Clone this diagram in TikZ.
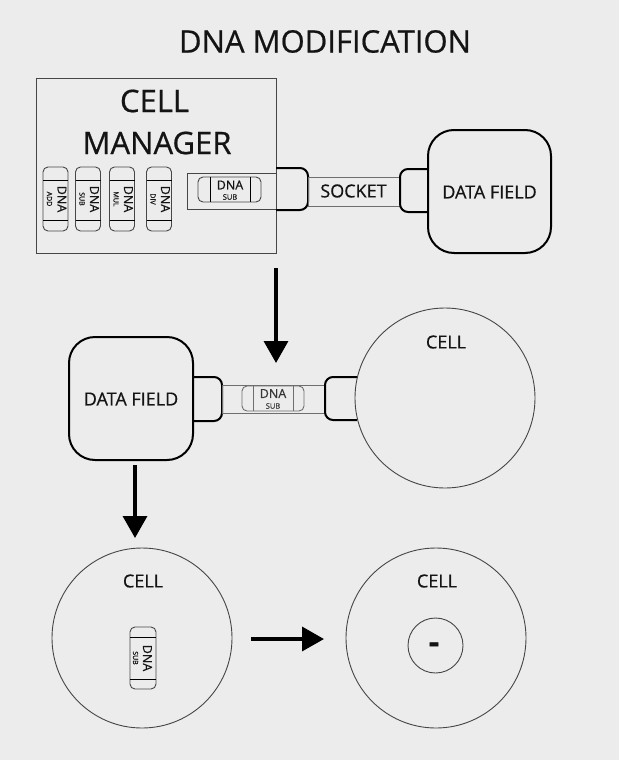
\documentclass[tikz,border=0pt]{standalone}
\usepackage{fontspec}
\setmainfont{Open Sans}[FakeBold=0.6]
\usetikzlibrary{arrows.meta}
\definecolor{bg}{RGB}{236,236,236}
\definecolor{ink}{RGB}{20,20,20}
\definecolor{thin}{RGB}{70,70,70}
\definecolor{faint}{RGB}{110,110,110}
\tikzset{
  lbl/.style={inner sep=0pt, text=ink},
  fs/.style={font=\fontsize{#1}{#1}\selectfont},
  thinbox/.style={draw=thin, line width=0.8pt},
  plug/.style={draw=black, line width=2pt, rounded corners=8pt},
  field/.style={draw=black, line width=2pt, rounded corners=26pt},
  cellc/.style={draw=thin, line width=0.9pt},
  caps/.style={draw=thin, line width=0.9pt, rounded corners=5pt},
  band/.style={draw=faint, line width=0.9pt},
  bigarrow/.style={line width=3.5pt, draw=black, -{Triangle[width=24pt,length=22pt]}},
}
\begin{document}
\begin{tikzpicture}[x=1pt,y=-1pt]
\fill[bg] (0,0) rectangle (619,760);
\useasboundingbox (0,0) rectangle (619,760);

% title
\node[lbl, fs=31] (title) at (325,41.5) {DNA MODIFICATION};

% cell manager
\draw[thinbox] (36,78) rectangle (276,253);
\node[lbl, fs=31] (cell) at (154.5,101) {CELL};
\node[lbl, fs=31] (manager) at (157,143) {MANAGER};

% vertical capsules in manager
\foreach \cx/\op/\nm in {55.5/ADD/c1, 88/SUB/c2, 122/MUL/c3, 159/DIV/c4}{
  \draw[caps] (\cx-12.5,167) rectangle (\cx+12.5,231);
  \draw[thin, line width=0.9pt] (\cx-12.5,180) -- (\cx+12.5,180);
  \draw[thin, line width=0.9pt] (\cx-12.5,220) -- (\cx+12.5,220);
  \node[lbl, fs=12.5, rotate=-90] (\nm dna) at (\cx+6.5,199) {DNA};
  \node[lbl, fs=7, rotate=-90] (\nm op) at (\cx-6,199) {\op};
}

% inserted capsule in manager
\draw[thinbox] (187,173) rectangle (276,209);
\draw[caps] (198,177) rectangle (261,202);
\draw[thin, line width=0.9pt] (210,177) -- (210,202);
\draw[thin, line width=0.9pt] (250,177) -- (250,202);
\node[lbl, fs=12.5] (mdna) at (230,185) {DNA};
\node[lbl, fs=7.5] (msub) at (230,197) {SUB};

% socket
\draw[plug] (276,168) -- (308,168) -- (308,210) -- (276,210);
\draw[band] (308,177) rectangle (400,206);
\node[lbl, fs=18] (socket) at (353.5,191) {SOCKET};
\draw[plug] (428,169) -- (400,169) -- (400,212) -- (428,212);

% data field top
\draw[field] (428,130) rectangle (551,253);
\node[lbl, fs=18] (df1) at (489.5,192) {DATA FIELD};

% arrow 1
\coordinate (a1s) at (276,268);
\coordinate (a1e) at (276,363);
\draw[bigarrow] (a1s) -- (a1e);

% data field 2
\draw[field] (69,337) rectangle (193,460);
\node[lbl, fs=18] (df2) at (131,399) {DATA FIELD};
\draw[plug] (193,377) -- (222,377) -- (222,421) -- (193,421);
\draw[band] (222,385) rectangle (325,413);
\draw[plug] (357.5,377) -- (325,377) -- (325,420) -- (357,420);
\draw[caps, draw=faint] (242,386) rectangle (304,411);
\draw[faint, line width=0.9pt] (253,386) -- (253,411);
\draw[faint, line width=0.9pt] (293,386) -- (293,411);
\node[lbl, fs=12.5, text=ink!85] (bdna) at (273,393.5) {DNA};
\node[lbl, fs=7.5, text=ink!85] (bsub) at (273,406) {SUB};

% cell 1
\draw[cellc, fill=bg] (445,398) circle[radius=90];
\node[lbl, fs=18] (cellA) at (446,342) {CELL};

% arrow 2
\coordinate (a2s) at (135,465);
\coordinate (a2e) at (135,538);
\draw[bigarrow] (a2s) -- (a2e);

% bottom cell left
\draw[cellc] (142,638) circle[radius=90];
\node[lbl, fs=18] (cellB) at (143,581) {CELL};
\draw[caps] (130,627) rectangle (156,689);
\draw[thin, line width=0.9pt] (130,637) -- (156,637);
\draw[thin, line width=0.9pt] (130,679) -- (156,679);
\node[lbl, fs=12.5, rotate=-90] (vdna) at (147.5,658) {DNA};
\node[lbl, fs=7, rotate=-90] (vsub) at (135.5,658) {SUB};

% arrow 3
\coordinate (a3s) at (251,639);
\coordinate (a3e) at (324,639);
\draw[bigarrow] (a3s) -- (a3e);

% bottom cell right
\draw[cellc] (436,638) circle[radius=90];
\node[lbl, fs=18] (cellC) at (437,581) {CELL};
\draw[cellc] (435.5,645.5) circle[radius=27.5];
\node[lbl, font=\bfseries\fontsize{32}{32}\selectfont, anchor=base] (minus) at (434,653) {-};
\end{tikzpicture}
\end{document}
